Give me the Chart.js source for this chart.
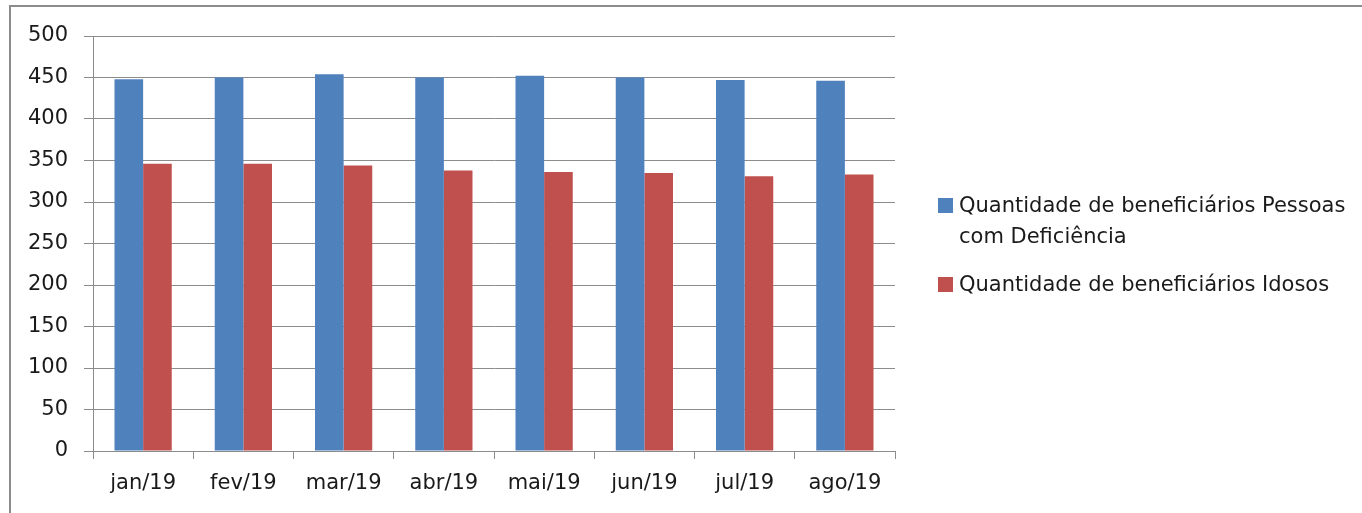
<!DOCTYPE html>
<html>
<head>
<meta charset="utf-8">
<script src="https://cdn.jsdelivr.net/npm/chart.js@4.4.0/dist/chart.umd.min.js"></script>
<style>
  html, body { margin: 0; padding: 0; background: #fff; overflow: hidden; }
  #wrap { position: relative; width: 1362px; height: 513px; }
  #frame { position: absolute; left: 9px; top: 5px; width: 1400px; height: 600px;
           border-top: 2px solid #8c8c8c; border-left: 2px solid #8c8c8c; }
  #c { position: absolute; left: 0; top: 0; }
  #legend { position: absolute; left: 938px; top: 190px; width: 424px;
            font-family: "DejaVu Sans", sans-serif; font-size: 21px; color: #1a1a1a; }
  .item { position: relative; padding-left: 21px; line-height: 31px; margin-bottom: 17px; }
  .box { position: absolute; left: 0; top: 8px; width: 15px; height: 15px; }
</style>
</head>
<body>
<div id="wrap">
  <div id="frame"></div>
  <canvas id="c" width="1362" height="513"></canvas>
  <div id="legend"></div>
</div>
<script>
var months = ["jan/19", "fev/19", "mar/19", "abr/19", "mai/19", "jun/19", "jul/19", "ago/19"];
var pcdValues = [448, 450, 454, 450, 452, 450, 447, 446];
var idososValues = [346, 346, 344, 338, 336, 335, 331, 333];
var seriesNames = ["Quantidade de beneficiários Pessoas com Deficiência", "Quantidade de beneficiários Idosos"];
var seriesColors = ['#4f81bd', '#c0504d'];

var ctx = document.getElementById('c').getContext('2d');
var font = { family: '"DejaVu Sans", sans-serif', size: 21 };

var chart = new Chart(ctx, {
  type: 'bar',
  data: {
    labels: months,
    datasets: [
      { label: seriesNames[0], data: pcdValues, backgroundColor: seriesColors[0] },
      { label: seriesNames[1], data: idososValues, backgroundColor: seriesColors[1] }
    ]
  },
  options: {
    responsive: false,
    animation: false,
    categoryPercentage: 0.571,
    barPercentage: 1,
    layout: { padding: { top: 36, right: 467, left: 0, bottom: 0 } },
    plugins: { legend: { display: false }, tooltip: { enabled: false } },
    scales: {
      x: {
        grid: { drawOnChartArea: false, offset: true, tickLength: 8, color: '#8c8c8c' },
        border: { color: '#8c8c8c' },
        ticks: { color: '#1a1a1a', font: font, padding: 12 },
        afterFit: function (s) { s.height = 62; }
      },
      y: {
        min: 0, max: 500,
        ticks: { stepSize: 50, color: '#1a1a1a', font: font, padding: 16 },
        grid: { color: '#8c8c8c', tickLength: 9 },
        border: { color: '#8c8c8c' },
        afterFit: function (s) { s.width = 93; }
      }
    }
  }
});

var legend = document.getElementById('legend');
chart.data.datasets.forEach(function (ds) {
  var item = document.createElement('div');
  item.className = 'item';
  var box = document.createElement('span');
  box.className = 'box';
  box.style.background = ds.backgroundColor;
  item.appendChild(box);
  item.appendChild(document.createTextNode(ds.label));
  legend.appendChild(item);
});
</script>
</body>
</html>
